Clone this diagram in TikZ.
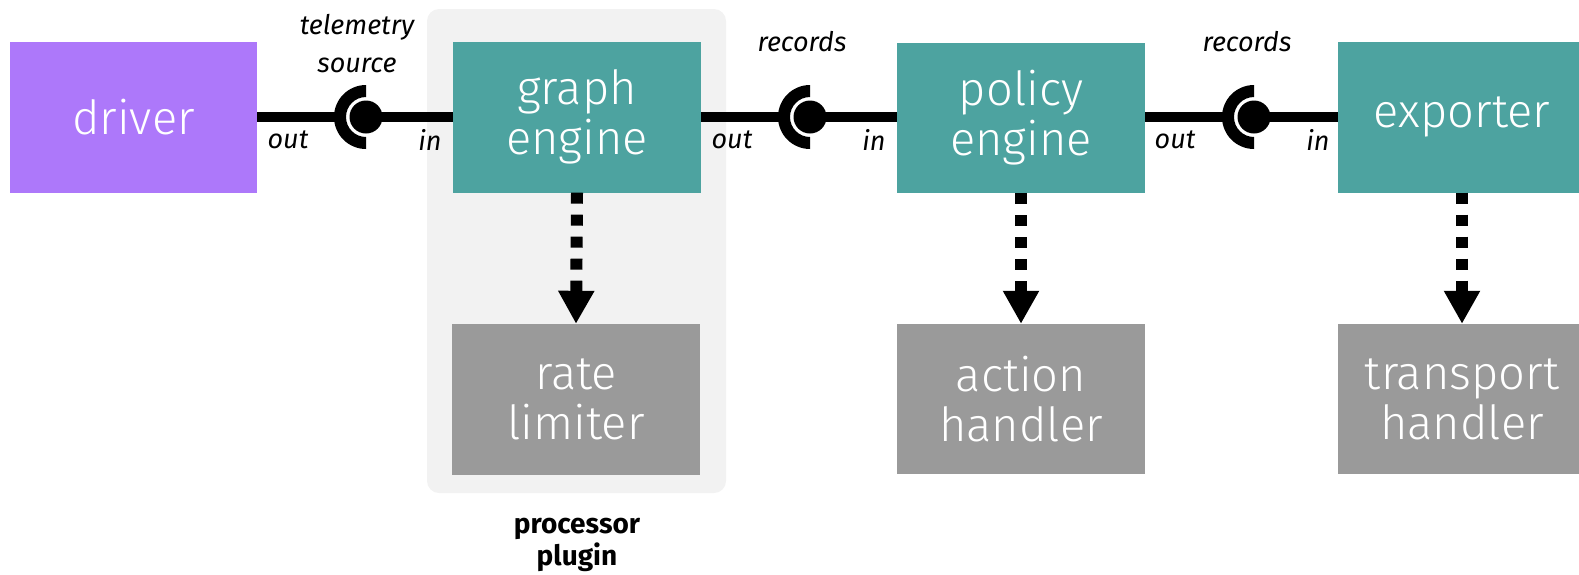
\documentclass[tikz,border=0pt]{standalone}
\usepackage{fontspec}
\setmainfont{Fira Sans}
\newfontfamily\boxfont{Fira Sans Light}
\usetikzlibrary{arrows.meta,calc}
\definecolor{drv}{HTML}{AD78FA}
\definecolor{teal}{HTML}{4DA3A0}
\definecolor{gry}{HTML}{9A9A9A}
\definecolor{panel}{HTML}{F2F2F2}
\begin{document}
\begin{tikzpicture}[x=1pt,y=-1pt,
  blk/.style={minimum width=248pt,minimum height=151pt,inner sep=0pt,text=white,
    font=\boxfont\fontsize{47}{50}\selectfont,align=center},
  comp/.style={blk,fill=teal},
  helper/.style={blk,fill=gry},
  conn/.style={line width=10pt},
  dep/.style={line width=12pt,dash pattern=on 11pt off 11pt,
    -{Triangle[width=34pt,length=33pt]}},
  lbl/.style={font=\itshape\fontsize{27}{38}\selectfont,align=center,inner sep=0pt},
]
\useasboundingbox (0,0) rectangle (1579,574);
\fill[panel,rounded corners=12pt] (427,9) rectangle (726,493);
\node[blk,fill=drv,minimum width=247pt] (driver) at (133.5,117) {driver};
\node[comp] (graph) at (577,117) {graph\\engine};
\node[comp,minimum height=150pt] (policy) at (1021,118) {policy\\engine};
\node[comp] (exporter) at (1462,117) {exporter};
\node[helper] (rate) at (576,399.5) {rate\\limiter};
\node[helper,minimum height=150pt] (action) at (1021,399) {action\\handler};
\node[helper,minimum height=150pt] (transport) at (1462,399) {transport\\handler};
\coordinate (s1) at (366,117);
\coordinate (s2) at (810,117);
\coordinate (s3) at (1254,117);
% connectors
\draw[conn] (driver.east |- s1) -- ($(s1)+(-26,0)$);
\draw[conn] (s1) -- (graph.west |- s1);
\draw[conn] (graph.east |- s2) -- ($(s2)+(-26,0)$);
\draw[conn] (s2) -- (policy.west |- s2);
\draw[conn] (policy.east |- s3) -- ($(s3)+(-26,0)$);
\draw[conn] (s3) -- (exporter.west |- s3);
\foreach \s in {s1,s2,s3}{
  \fill ($(\s)+(0,32)$) arc[start angle=90,end angle=270,radius=32]
        -- ($(\s)+(0,-20)$) arc[start angle=270,end angle=90,radius=20] -- cycle;
  \fill (\s) circle[radius=16.5];
}
% dependencies
\draw[dep] (graph.south) -- (rate.north);
\draw[dep] (policy.south) -- (action.north);
\draw[dep] (exporter.south) -- (transport.north);
% labels
\node[lbl] (ts) at (357,44) {telemetry\\source};
\node[lbl] (o1) at (288,140) {out};
\node[lbl] (i1) at (430,140) {in};
\node[lbl] (r2) at (802,42) {records};
\node[lbl] (o2) at (732,140) {out};
\node[lbl] (i2) at (874,140) {in};
\node[lbl] (r3) at (1247,42) {records};
\node[lbl] (o3) at (1175,140) {out};
\node[lbl] (i3) at (1318,140) {in};
\node[font=\bfseries\fontsize{28}{32}\selectfont,align=center] (pp) at (577,545) {processor\\plugin};
\end{tikzpicture}
\end{document}
